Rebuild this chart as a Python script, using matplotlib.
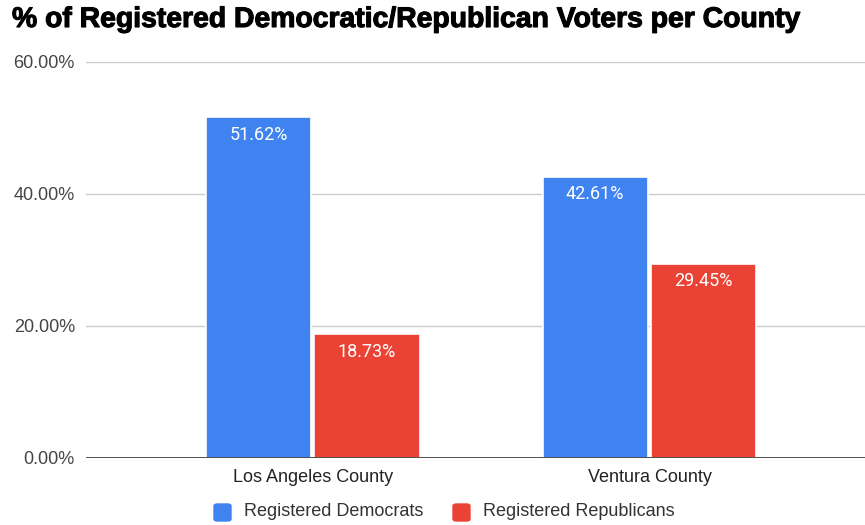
import numpy as np
import matplotlib
matplotlib.use("Agg")
import matplotlib.pyplot as plt
import matplotlib.patheffects as pe
from matplotlib.patches import FancyBboxPatch

counties = ["Los Angeles County", "Ventura County"]
democrats = [51.62, 42.61]
republicans = [18.73, 29.45]
series_names = ["Registered Democrats", "Registered Republicans"]
yticks = [0, 20, 40, 60]

blue = "#3F83F1"
red = "#EA4335"

plt.rcParams["font.family"] = ["Liberation Sans", "DejaVu Sans"]

fig = plt.figure(figsize=(8.65, 5.25), dpi=100)
ax = fig.add_axes([86 / 865, 67 / 525, 779 / 865, 396 / 525])

x = np.arange(len(counties))
w = 0.3125
off = 0.161
b1 = ax.bar(x - off, democrats, w, color=blue, edgecolor="white", linewidth=1.2, zorder=3)
b2 = ax.bar(x + off, republicans, w, color=red, edgecolor="white", linewidth=1.2, zorder=3)

for bars, vals in [(b1, democrats), (b2, republicans)]:
    for r, v in zip(bars, vals):
        ax.annotate("%.2f%%" % v, (r.get_x() + r.get_width() / 2, v),
                    xytext=(0, -6), textcoords="offset points",
                    ha="center", va="top", color="white", fontsize=13,
                    family=["Roboto", "DejaVu Sans"], zorder=4)

ax.set_xlim(-0.673, 1.64)
ax.set_ylim(0, 60)
ax.set_yticks(yticks)
ax.set_yticklabels(["%.2f%%" % t for t in yticks], fontsize=13, color="#444444")
ax.set_xticks(x)
ax.set_xticklabels(counties, fontsize=13, color="#222222")
ax.tick_params(length=0)
ax.tick_params(axis="x", pad=8)
ax.tick_params(axis="y", pad=8)

ax.grid(axis="y", color="#cccccc", linewidth=1, zorder=1)
ax.axhline(0, color="#333333", linewidth=1.2, zorder=5)
for s in ax.spines.values():
    s.set_visible(False)

fig.text(12 / 865, 1 - 20 / 525, "% of Registered Democratic/Republican Voters per County",
         fontsize=20.4, fontweight="bold", va="center", ha="left",
         path_effects=[pe.withStroke(linewidth=0.8, foreground="black")])

# legend
for (lx, col, name) in [(214, blue, series_names[0]), (453, red, series_names[1])]:
    fig.patches.append(FancyBboxPatch((lx / 865, (525 - 521) / 525), 17 / 865, 17 / 525,
                                      boxstyle="round,pad=0,rounding_size=0.004",
                                      transform=fig.transFigure, color=col))
    fig.text((lx + 30) / 865, 1 - 512 / 525, name, fontsize=13, color="#333333",
             va="center", ha="left")

fig.savefig("out.png", dpi=100)
